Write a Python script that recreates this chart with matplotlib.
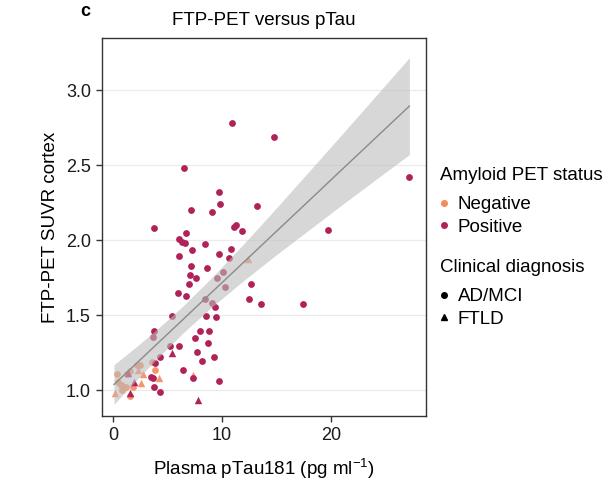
import matplotlib
matplotlib.use("Agg")
import matplotlib.pyplot as plt
from matplotlib.lines import Line2D
import numpy as np

plt.rcParams['font.family'] = ['Liberation Sans', 'DejaVu Sans']

# Amyloid-positive, AD/MCI (circles)
pos_ad_x = [10.9, 14.8, 6.55, 9.73, 9.79, 13.2, 7.19, 9.08, 3.76, 11.1, 11.3, 11.8, 19.7,
            6.73, 6.06, 6.33, 6.58, 8.44, 10.86, 7.25, 9.70, 6.09, 10.61, 7.13, 8.62,
            10.09, 7.10, 7.59, 9.54, 6.94, 12.63, 10.28, 5.96, 6.73, 12.45, 8.44, 13.61,
            17.43, 9.08, 9.39, 5.41, 8.50, 9.42, 3.73, 7.95, 8.78, 3.67, 7.50, 8.72, 5.20,
            6.03, 7.74, 4.35, 9.27, 8.20, 3.89, 6.42, 3.52, 3.67, 7.34, 9.73, 3.76, 4.35, 27.2]
pos_ad_y = [2.78, 2.69, 2.48, 2.32, 2.24, 2.23, 2.20, 2.19, 2.08, 2.09, 2.10, 2.06, 2.07,
            2.05, 2.01, 1.99, 1.98, 1.975, 1.94, 1.935, 1.905, 1.895, 1.88, 1.83, 1.815,
            1.79, 1.77, 1.75, 1.75, 1.705, 1.705, 1.685, 1.645, 1.63, 1.605, 1.605, 1.573,
            1.573, 1.578, 1.555, 1.495, 1.495, 1.489, 1.393, 1.393, 1.393, 1.351, 1.349, 1.311, 1.293,
            1.293, 1.255, 1.218, 1.222, 1.195, 1.178, 1.133, 1.085, 1.078, 1.078, 1.062, 1.018, 0.985, 2.42]

# Amyloid-positive, FTLD (triangles)
pos_ftld_x = [5.45, 7.83, 1.40, 1.95, 1.60]
pos_ftld_y = [1.25, 0.935, 1.115, 1.055, 0.98]

# Amyloid-negative, AD/MCI (circles)
neg_ad_x = [2.45, 3.55, 1.60, 0.40, 1.30, 0.46, 0.86, 1.53, 1.83, 0.77, 1.20, 3.83, 2.20]
neg_ad_y = [1.17, 1.185, 1.13, 1.11, 1.11, 1.055, 1.00, 0.96, 1.02, 1.035, 1.02, 1.133, 1.167]

# Amyloid-negative, FTLD (triangles)
neg_ftld_x = [0.20, 2.30, 2.54, 2.80, 4.20, 7.34, 12.39, 0.92]
neg_ftld_y = [0.978, 1.133, 1.049, 1.11, 1.078, 1.10, 1.871, 1.033]

# Regression line with 95% confidence band
band_x = [0.1, 2, 4, 6.5, 9, 12, 15, 18, 21, 24, 27.2]
fit_y = [1.037, 1.167, 1.304, 1.475, 1.647, 1.852, 2.058, 2.263, 2.469, 2.674, 2.893]
band_lo = [0.905, 1.054, 1.206, 1.385, 1.549, 1.730, 1.902, 2.068, 2.234, 2.397, 2.570]
band_hi = [1.169, 1.280, 1.402, 1.565, 1.745, 1.974, 2.214, 2.458, 2.704, 2.951, 3.216]

x_ticks = [0, 10, 20]
y_ticks = [1.0, 1.5, 2.0, 2.5, 3.0]

c_pos = '#B0235A'
c_neg = '#F58A5B'

fig = plt.figure(figsize=(6.10, 4.82), dpi=100)
ax = fig.add_axes([0.1672, 0.1369, 0.5307, 0.7843])

ax.set_xlim(-1.0, 28.7)
ax.set_ylim(0.827, 3.347)
ax.set_yticks(y_ticks)
ax.set_yticklabels([f"{v:.1f}" for v in y_ticks])
ax.set_xticks(x_ticks)
for v in y_ticks:
    ax.axhline(v, color='#ebebeb', lw=0.9, zorder=0)

ms = 24
ax.scatter(neg_ad_x, neg_ad_y, s=ms, marker='o', color=c_neg, lw=0, alpha=0.9, zorder=2)
ax.scatter(neg_ftld_x, neg_ftld_y, s=ms * 1.2, marker='^', color=c_neg, lw=0, alpha=0.9, zorder=2)
ax.scatter(pos_ad_x, pos_ad_y, s=ms, marker='o', color=c_pos, lw=0, zorder=2)
ax.scatter(pos_ftld_x, pos_ftld_y, s=ms * 1.2, marker='^', color=c_pos, lw=0, zorder=2)

ax.fill_between(band_x, band_lo, band_hi, color='#bdbdbd', alpha=0.6, lw=0, zorder=3)
ax.plot(band_x, fit_y, color='#8a8a8a', lw=1.0, zorder=4)

for s in ax.spines.values():
    s.set_color('#333333')
    s.set_linewidth(1.0)
ax.tick_params(axis='both', direction='out', length=4, width=1, color='#333333',
               labelsize=13, labelcolor='#1a1a1a', pad=4)

ax.set_title('FTP-PET versus pTau', fontsize=13.5, pad=9)
ax.set_xlabel('Plasma pTau181 (pg ml$^{\\mathregular{-1}}$)', fontsize=13.5, labelpad=9)
ax.set_ylabel('FTP-PET SUVR cortex', fontsize=13.5, labelpad=5)

fig.text(85 / 610, 1 - 12 / 482, 'c', fontsize=13, fontweight='bold', ha='center', va='center')

leg_kw = dict(loc='upper left', frameon=False, fontsize=13.5, handlelength=0.6,
              handletextpad=0.45, labelspacing=0.3, borderpad=0, borderaxespad=0)

fig.text(440 / 610, 1 - 176 / 482, 'Amyloid PET status', fontsize=13.5, ha='left', va='center')
h1 = [Line2D([], [], marker='o', ls='', color=c_neg, markersize=4),
      Line2D([], [], marker='o', ls='', color=c_pos, markersize=4)]
fig.legend(h1, ['Negative', 'Positive'], bbox_to_anchor=(438 / 610, 1 - 196 / 482), **leg_kw)

fig.text(440 / 610, 1 - 267 / 482, 'Clinical diagnosis', fontsize=13.5, ha='left', va='center')
h2 = [Line2D([], [], marker='o', ls='', color='black', markersize=4),
      Line2D([], [], marker='^', ls='', color='black', markersize=5)]
fig.legend(h2, ['AD/MCI', 'FTLD'], bbox_to_anchor=(438 / 610, 1 - 288 / 482), **leg_kw)

fig.savefig('out.png', dpi=100)
